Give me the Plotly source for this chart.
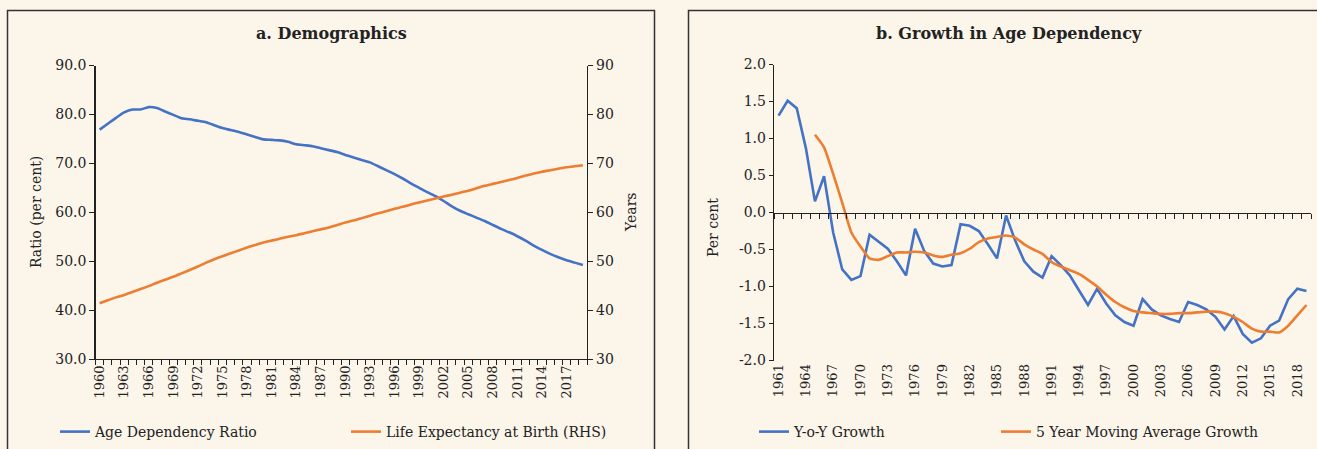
import plotly.graph_objects as go

# ---------------- data ----------------
years_a = list(range(1960, 2020))
age_dependency = [
    76.9, 78.1, 79.3, 80.4, 81.0, 81.0, 81.5, 81.3, 80.6, 79.9,
    79.2, 79.0, 78.7, 78.4, 77.8, 77.2, 76.8, 76.4, 75.9, 75.4,
    74.9, 74.8, 74.7, 74.4, 73.9, 73.7, 73.5, 73.1, 72.7, 72.3,
    71.7, 71.2, 70.7, 70.2, 69.4, 68.6, 67.8, 66.9, 65.9, 65.0,
    64.1, 63.3, 62.3, 61.2, 60.3, 59.6, 58.9, 58.2, 57.4, 56.6,
    55.9, 55.1, 54.2, 53.2, 52.3, 51.5, 50.8, 50.2, 49.7, 49.2,
]
life_expectancy = [
    41.4, 42.0, 42.6, 43.1, 43.7, 44.3, 44.9, 45.6, 46.2, 46.8,
    47.5, 48.2, 48.9, 49.7, 50.4, 51.0, 51.6, 52.2, 52.8, 53.3,
    53.8, 54.2, 54.6, 55.0, 55.3, 55.7, 56.1, 56.5, 56.9, 57.4,
    57.9, 58.3, 58.8, 59.3, 59.8, 60.2, 60.7, 61.1, 61.6, 62.0,
    62.4, 62.8, 63.2, 63.6, 64.0, 64.4, 64.9, 65.4, 65.8, 66.2,
    66.6, 67.0, 67.5, 67.9, 68.3, 68.6, 68.9, 69.2, 69.4, 69.6,
]

years_b = list(range(1961, 2020))
yoy_growth = [
    1.31, 1.51, 1.41, 0.87, 0.15, 0.49, -0.27, -0.77, -0.91, -0.86,
    -0.30, -0.39, -0.49, -0.66, -0.85, -0.22, -0.52, -0.69, -0.73, -0.71,
    -0.16, -0.18, -0.25, -0.43, -0.62, -0.04, -0.38, -0.66, -0.80, -0.88,
    -0.59, -0.71, -0.85, -1.05, -1.25, -1.03, -1.23, -1.39, -1.48, -1.53,
    -1.17, -1.31, -1.39, -1.44, -1.48, -1.21, -1.25, -1.31, -1.41, -1.58,
    -1.40, -1.64, -1.76, -1.70, -1.53, -1.46, -1.17, -1.03, -1.06,
]
years_ma = list(range(1965, 2020))
ma5_growth = [
    1.05, 0.88, 0.52, 0.13, -0.27, -0.46, -0.62, -0.64, -0.59, -0.54,
    -0.54, -0.53, -0.54, -0.58, -0.60, -0.57, -0.55, -0.49, -0.40, -0.35,
    -0.33, -0.31, -0.34, -0.43, -0.50, -0.56, -0.67, -0.73, -0.78, -0.83,
    -0.91, -1.00, -1.11, -1.21, -1.28, -1.33, -1.35, -1.36, -1.37, -1.37,
    -1.36, -1.36, -1.35, -1.34, -1.34, -1.36, -1.41, -1.48, -1.57, -1.61,
    -1.61, -1.62, -1.53, -1.39, -1.25,
]

xlabels_a = list(range(1960, 2020, 3))
xlabels_b = list(range(1961, 2020, 3))
yl_ticks = [30, 40, 50, 60, 70, 80, 90]
yl_text = ["30.0", "40.0", "50.0", "60.0", "70.0", "80.0", "90.0"]
yr_text = ["30", "40", "50", "60", "70", "80", "90"]
yb_ticks = [-2.0, -1.5, -1.0, -0.5, 0.0, 0.5, 1.0, 1.5, 2.0]
yb_text = ["-2.0", "-1.5", "-1.0", "-0.5", "0.0", "0.5", "1.0", "1.5", "2.0"]

# ---------------- style ----------------
W, H = 1317, 449
BG = "#FBF5EA"
BLUE = "#4472C4"
ORANGE = "#ED7D31"
TXT = "#222222"
AX = "#222222"
FONT = "DejaVu Serif"


def px(x):
    return x / W


def py(y):
    return 1 - y / H


fig = go.Figure()

fig.add_trace(go.Scatter(x=years_a, y=age_dependency, mode="lines",
                         name="Age Dependency Ratio",
                         line=dict(color=BLUE, width=2.6, shape="spline", smoothing=0.5),
                         xaxis="x", yaxis="y", legend="legend"))
fig.add_trace(go.Scatter(x=years_a, y=life_expectancy, mode="lines",
                         name="Life Expectancy at Birth (RHS)",
                         line=dict(color=ORANGE, width=2.6, shape="spline", smoothing=0.5),
                         xaxis="x", yaxis="y2", legend="legend2"))
fig.add_trace(go.Scatter(x=years_b, y=yoy_growth, mode="lines",
                         name="Y-o-Y Growth",
                         line=dict(color=BLUE, width=2.6),
                         xaxis="x2", yaxis="y3", legend="legend3"))
fig.add_trace(go.Scatter(x=years_ma, y=ma5_growth, mode="lines",
                         name="5 Year Moving Average Growth",
                         line=dict(color=ORANGE, width=2.6, shape="spline", smoothing=0.5),
                         xaxis="x2", yaxis="y3", legend="legend4"))
# helper trace for the zero-line axis
fig.add_trace(go.Scatter(x=[years_b[0]], y=[0], mode="markers", marker=dict(opacity=0),
                         showlegend=False, hoverinfo="skip", xaxis="x3", yaxis="y3"))

a_l, a_r, a_t, a_b = 95.5, 587, 65.5, 359
b_l, b_r, b_t, b_b = 774, 1311, 64.5, 360.5

tickfont = dict(family=FONT, size=14, color=TXT)
xtickfont = dict(family=FONT, size=13, color=TXT)

bounds_a = [1959.5 + i for i in range(61)]
bounds_b = [1960.5 + i for i in range(60)]

fig.update_layout(
    template="none",
    width=W, height=H, autosize=False,
    margin=dict(l=0, r=0, t=0, b=0, pad=0, autoexpand=False),
    paper_bgcolor=BG, plot_bgcolor=BG,
    font=dict(family=FONT, color=TXT),
    xaxis=dict(domain=[px(a_l), px(a_r)], range=[1959.5, 2019.5], anchor="y",
               automargin=False,
               tickmode="array", tickvals=xlabels_a, ticktext=[str(v) for v in xlabels_a],
               ticks="", tickangle=-90, tickfont=xtickfont,
               minor=dict(tickmode="array", tickvals=bounds_a, ticks="outside",
                          ticklen=5, tickwidth=1, tickcolor=AX, showgrid=False),
               showline=True, linecolor=AX, linewidth=1.3,
               showgrid=False, zeroline=False),
    yaxis=dict(domain=[py(a_b), py(a_t)], range=[30, 90], anchor="x",
               automargin=False,
               tickmode="array", tickvals=yl_ticks, ticktext=yl_text,
               ticks="outside", ticklen=5, tickwidth=1, tickcolor=AX,
               tickfont=tickfont, showline=True, linecolor=AX, linewidth=1.3,
               showgrid=False, zeroline=False),
    yaxis2=dict(range=[30, 90], overlaying="y", side="right", anchor="x",
                automargin=False,
                tickmode="array", tickvals=yl_ticks, ticktext=yr_text,
                ticks="outside", ticklen=5, tickwidth=1, tickcolor=AX,
                tickfont=tickfont, showline=True, linecolor=AX, linewidth=1.3,
                showgrid=False, zeroline=False),
    xaxis2=dict(domain=[px(b_l), px(b_r)], range=[1960.5, 2019.5], anchor="y3",
                automargin=False,
                tickmode="array", tickvals=xlabels_b, ticktext=[str(v) for v in xlabels_b],
                ticks="", tickangle=-90, tickfont=xtickfont,
                showline=False, showgrid=False, zeroline=False),
    xaxis3=dict(range=[1960.5, 2019.5], overlaying="x2", anchor="free",
                automargin=False,
                position=py((b_t + b_b) / 2),
                tickmode="array", tickvals=[], showticklabels=False, ticks="",
                minor=dict(tickmode="array", tickvals=bounds_b, ticks="outside",
                           ticklen=5, tickwidth=1, tickcolor=AX, showgrid=False),
                showline=True, linecolor=AX, linewidth=1.3,
                showgrid=False, zeroline=False),
    yaxis3=dict(domain=[py(b_b), py(b_t)], range=[-2, 2], anchor="x2",
                automargin=False,
                tickmode="array", tickvals=yb_ticks, ticktext=yb_text,
                ticks="outside", ticklen=4, tickwidth=1, tickcolor=AX,
                tickfont=tickfont, showline=True, linecolor=AX, linewidth=1.3,
                showgrid=False, zeroline=False),
)

legfont = dict(family=FONT, size=14, color=TXT)
for name, xpos in [("legend", 55), ("legend2", 346), ("legend3", 754), ("legend4", 996)]:
    fig.update_layout({name: dict(x=px(xpos), y=py(432), xanchor="left", yanchor="middle",
                                  orientation="h", bgcolor="rgba(0,0,0,0)",
                                  font=legfont, borderwidth=0)})

# panel borders
fig.add_shape(type="rect", xref="paper", yref="paper",
              x0=px(7.5), x1=px(654.5), y0=py(470), y1=py(10.5),
              line=dict(color="#333333", width=1.5), fillcolor="rgba(0,0,0,0)")
fig.add_shape(type="rect", xref="paper", yref="paper",
              x0=px(688.5), x1=px(1340), y0=py(470), y1=py(10.5),
              line=dict(color="#333333", width=1.5), fillcolor="rgba(0,0,0,0)")

# titles
fig.add_annotation(text="<b>a. Demographics</b>", x=px(331), y=py(33), xref="paper", yref="paper",
                   showarrow=False, xanchor="center", yanchor="middle",
                   font=dict(family=FONT, size=16, color=TXT))
fig.add_annotation(text="<b>b. Growth in Age Dependency</b>", x=px(1009), y=py(33), xref="paper",
                   yref="paper", showarrow=False, xanchor="center", yanchor="middle",
                   font=dict(family=FONT, size=16, color=TXT))
# axis titles
fig.add_annotation(text="Ratio (per cent)", x=px(36), y=py(212), xref="paper", yref="paper",
                   showarrow=False, textangle=-90, xanchor="center", yanchor="middle",
                   font=dict(family=FONT, size=14, color=TXT))
fig.add_annotation(text="Years", x=px(631), y=py(212), xref="paper", yref="paper",
                   showarrow=False, textangle=-90, xanchor="center", yanchor="middle",
                   font=dict(family=FONT, size=14, color=TXT))
fig.add_annotation(text="Per cent", x=px(713), y=py(228), xref="paper", yref="paper",
                   showarrow=False, textangle=-90, xanchor="center", yanchor="middle",
                   font=dict(family=FONT, size=14, color=TXT))

post = ("document.documentElement.style.margin='0';"
        "document.body.style.margin='0';document.body.style.padding='0';"
        "document.body.style.background='" + BG + "';"
        "document.documentElement.style.background='" + BG + "';"
        "document.body.style.overflow='hidden';")

fig.write_html("out.html", post_script=post,
               config={"displayModeBar": False, "staticPlot": True})
